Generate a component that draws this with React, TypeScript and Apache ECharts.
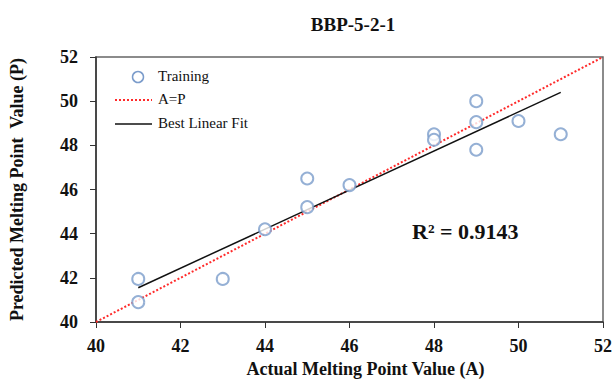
import React, { useEffect, useRef } from "react";
import * as echarts from "echarts";

const actual = [41, 41, 43, 44, 45, 45, 46, 48, 48, 49, 49, 49, 50, 51];
const predicted = [41.95, 40.9, 41.95, 44.2, 46.5, 45.2, 46.2, 48.5, 48.25, 50.0, 49.05, 47.8, 49.1, 48.5];
const fitX = [41, 51];
const fitY = [41.55, 50.4];
const idealX = [40, 52];
const titleText = "BBP-5-2-1";
const r2Text = "R² = 0.9143";
const legendNames = ["Training", "A=P", "Best Linear Fit"];

export default function App() {
  const ref = useRef<HTMLDivElement>(null);
  useEffect(() => {
    const chart = echarts.init(ref.current!, null, { renderer: "svg" });
    const font = "Liberation Serif";
    const blue = "#7b9ccb";
    const legendText = (i: number, y: number) => ({
      type: "text",
      left: 158,
      top: y - 9,
      style: { text: legendNames[i], fontFamily: font, fontSize: 15, fill: "#111" },
    });
    chart.setOption({
      animation: false,
      backgroundColor: "#fff",
      textStyle: { fontFamily: font },
      title: {
        text: titleText,
        left: 348,
        textAlign: "center",
        top: 10,
        textStyle: { fontFamily: font, fontSize: 19, fontWeight: "bold", color: "#111" },
      },
      grid: {
        left: 94,
        right: 13,
        top: 57,
        bottom: 63,
        show: true,
        borderColor: "#666",
        borderWidth: 1.5,
      },
      xAxis: {
        type: "value",
        min: 40,
        max: 52,
        interval: 2,
        name: "Actual Melting Point Value (A)",
        nameLocation: "middle",
        nameGap: 36,
        nameTextStyle: {
          fontFamily: font,
          fontSize: 18,
          fontWeight: "bold",
          color: "#111",
          padding: [0, 0, 0, 32],
        },
        axisLine: { show: true, lineStyle: { color: "#333", width: 1.5 } },
        axisTick: { show: true, length: 6, lineStyle: { color: "#333" } },
        axisLabel: { fontFamily: font, fontSize: 18, fontWeight: "bold", color: "#111", margin: 15 },
        splitLine: { show: false },
      },
      yAxis: {
        type: "value",
        min: 40,
        max: 52,
        interval: 2,
        name: "Predicted Melting Point  Value (P)",
        nameLocation: "middle",
        nameGap: 70,
        nameTextStyle: { fontFamily: font, fontSize: 18, fontWeight: "bold", color: "#111" },
        axisLine: { show: true, lineStyle: { color: "#333", width: 1.5 } },
        axisTick: { show: true, length: 6, lineStyle: { color: "#333" } },
        axisLabel: { fontFamily: font, fontSize: 18, fontWeight: "bold", color: "#111", margin: 18 },
        splitLine: { show: false },
      },
      series: [
        {
          name: legendNames[0],
          type: "scatter",
          symbol: "emptyCircle",
          symbolSize: 12,
          itemStyle: { color: blue, borderColor: blue, borderWidth: 1.5 },
          data: actual.map((a, i) => [a, predicted[i]]),
          z: 3,
        },
        {
          name: legendNames[1],
          type: "line",
          symbol: "none",
          lineStyle: { color: "#ff2a2a", width: 2, type: [2, 2] },
          data: idealX.map((v) => [v, v]),
          z: 2,
        },
        {
          name: legendNames[2],
          type: "line",
          symbol: "none",
          lineStyle: { color: "#111", width: 1.5 },
          data: fitX.map((v, i) => [v, fitY[i]]),
          z: 2,
        },
      ],
      graphic: [
        {
          type: "circle",
          shape: { cx: 138, cy: 77, r: 5.5 },
          style: { fill: "none", stroke: blue, lineWidth: 1.5 },
        },
        legendText(0, 77),
        {
          type: "line",
          shape: { x1: 115, y1: 100, x2: 152, y2: 100 },
          style: { stroke: "#ff2a2a", lineWidth: 2, lineDash: [2, 2] },
        },
        legendText(1, 100),
        {
          type: "line",
          shape: { x1: 115, y1: 124, x2: 152, y2: 124 },
          style: { stroke: "#111", lineWidth: 1.5 },
        },
        legendText(2, 124),
        {
          type: "text",
          left: 412,
          top: 220,
          style: { text: r2Text, fontFamily: font, fontSize: 22, fontWeight: "bold", fill: "#111" },
        },
      ],
    });
    return () => chart.dispose();
  }, []);
  return (
    <div
      ref={ref}
      style={{ position: "fixed", left: 0, top: 0, width: 616, height: 385 }}
    />
  );
}
